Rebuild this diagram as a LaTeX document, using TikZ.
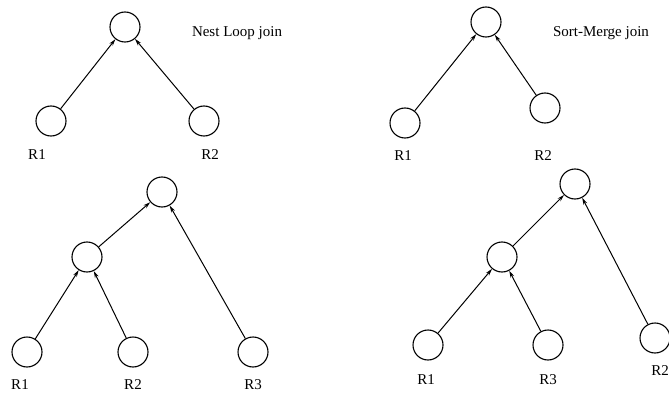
\documentclass[tikz,border=0pt]{standalone}
\usepackage{fontspec}
\setmainfont{Liberation Serif}
\usetikzlibrary{arrows.meta}
\begin{document}
\begin{tikzpicture}[x=1pt,y=-1pt,
  op/.style={circle,draw,line width=1.1pt,minimum size=30pt,inner sep=0pt},
  lbl/.style={font=\fontsize{15}{17}\selectfont,inner sep=0pt},
  flow/.style={line width=1pt,-{Stealth[length=7pt,width=4pt]}}]
\useasboundingbox (0,0) rectangle (669,401);
% top left
\node[op] (a0) at (125,27) {};
\node[op] (a1) at (51,121) {};
\node[op] (a2) at (204,121) {};
\node[lbl] (la1) at (37,155) {R1};
\node[lbl] (la2) at (210,155) {R2};
\node[lbl] (ta) at (237,33) {Nest Loop join};
\draw[flow] (a1) -- (a0);
\draw[flow] (a2) -- (a0);
% top right
\node[op] (b0) at (486,22) {};
\node[op] (b1) at (405,123) {};
\node[op] (b2) at (545,108) {};
\node[lbl] (lb1) at (403,156) {R1};
\node[lbl] (lb2) at (543,156) {R2};
\node[lbl] (tb) at (601,33) {Sort-Merge join};
\draw[flow] (b1) -- (b0);
\draw[flow] (b2) -- (b0);
% bottom left
\node[op] (c0) at (162,192) {};
\node[op] (cm) at (87,257) {};
\node[op] (c1) at (27,352) {};
\node[op] (c2) at (133,352) {};
\node[op] (c3) at (253,352) {};
\node[lbl] (lc1) at (20,385) {R1};
\node[lbl] (lc2) at (133,385) {R2};
\node[lbl] (lc3) at (253,385) {R3};
\draw[flow] (cm) -- (c0);
\draw[flow] (c3) -- (c0);
\draw[flow] (c1) -- (cm);
\draw[flow] (c2) -- (cm);
% bottom right
\node[op] (d0) at (575,184) {};
\node[op] (dm) at (502,257) {};
\node[op] (d1) at (428,345) {};
\node[op] (d3) at (548,345) {};
\node[op] (d2) at (655,338) {};
\node[lbl] (ld1) at (426,380) {R1};
\node[lbl] (ld3) at (548,380) {R3};
\node[lbl] (ld2) at (660,371) {R2};
\draw[flow] (dm) -- (d0);
\draw[flow] (d2) -- (d0);
\draw[flow] (d1) -- (dm);
\draw[flow] (d3) -- (dm);
\end{tikzpicture}
\end{document}
